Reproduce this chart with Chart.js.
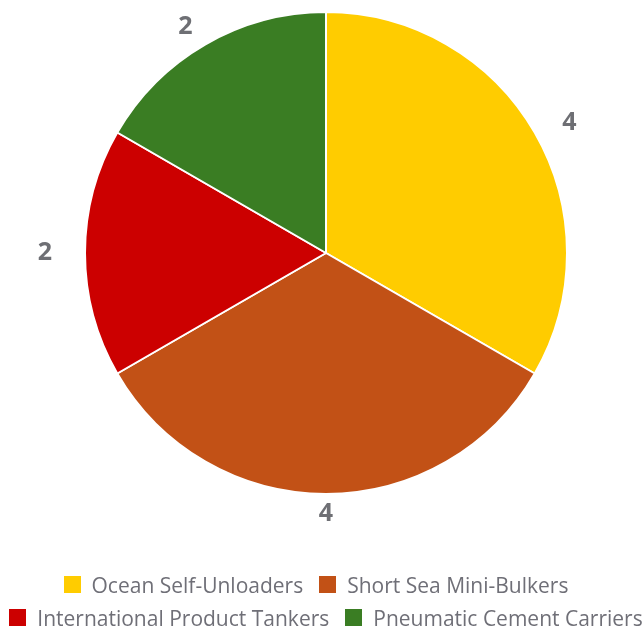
<!DOCTYPE html>
<html>
<head>
<meta charset="utf-8">
<script src="https://cdn.jsdelivr.net/npm/chart.js@4/dist/chart.umd.min.js"></script>
<style>
  html, body { margin: 0; padding: 0; background: #ffffff; overflow: hidden; }
  #wrap { position: relative; width: 644px; height: 627px; }
  #chart { position: absolute; left: 0; top: 0; }
  #legend { position: absolute; left: 0; top: 568px; width: 644px;
            font-family: "Open Sans", sans-serif; font-size: 21px; color: #6F6F77; }
  .row { height: 33px; display: flex; justify-content: center; align-items: center; white-space: nowrap; }
  .row.first { margin-right: 12px; }
  .row.second { margin-left: 8px; }
  .item { display: flex; align-items: center; margin: 0 8px; }
  .box { width: 17px; height: 17px; margin-right: 11px; flex: none; }
</style>
</head>
<body>
<div id="wrap">
  <canvas id="chart" width="644" height="627"></canvas>
  <div id="legend"></div>
</div>
<script>
// Fleet composition by vessel type
const categories = [
  'Ocean Self-Unloaders',
  'Short Sea Mini-Bulkers',
  'International Product Tankers',
  'Pneumatic Cement Carriers'
];
const vessels = [4, 4, 2, 2];
const sliceColors = ['#FFCC00', '#C25116', '#CC0000', '#3A7D23'];
const legendRows = [[0, 1], [2, 3]];

// Writes each slice's value just outside its arc
const outsideValues = {
  id: 'outsideValues',
  afterDatasetsDraw(chart) {
    const ctx = chart.ctx;
    const meta = chart.getDatasetMeta(0);
    const values = chart.data.datasets[0].data;
    ctx.save();
    ctx.font = 'bold 25px "Open Sans", sans-serif';
    ctx.fillStyle = '#6E6F74';
    ctx.textAlign = 'center';
    ctx.textBaseline = 'middle';
    meta.data.forEach((arc, i) => {
      const p = arc.getProps(['x', 'y', 'startAngle', 'endAngle', 'outerRadius'], true);
      const mid = (p.startAngle + p.endAngle) / 2;
      const x = p.x + Math.cos(mid) * (p.outerRadius + 40);
      const y = p.y + Math.sin(mid) * (p.outerRadius + 20);
      ctx.fillText(String(values[i]), x, y);
    });
    ctx.restore();
  }
};

const chart = new Chart(document.getElementById('chart'), {
  type: 'pie',
  data: {
    labels: categories,
    datasets: [{
      data: vessels,
      backgroundColor: sliceColors,
      borderColor: '#ffffff',
      borderWidth: 2
    }]
  },
  options: {
    responsive: false,
    animation: false,
    layout: { padding: { left: 84, right: 76, top: 11, bottom: 132 } },
    plugins: {
      legend: { display: false },
      tooltip: { enabled: false }
    }
  },
  plugins: [outsideValues]
});

// Legend built from the chart's own labels and colours
const legendEl = document.getElementById('legend');
legendRows.forEach((row, n) => {
  const r = document.createElement('div');
  r.className = n === 0 ? 'row first' : 'row second';
  row.forEach(i => {
    const item = document.createElement('div');
    item.className = 'item';
    const box = document.createElement('span');
    box.className = 'box';
    box.style.background = chart.data.datasets[0].backgroundColor[i];
    const label = document.createElement('span');
    label.textContent = chart.data.labels[i];
    item.appendChild(box);
    item.appendChild(label);
    r.appendChild(item);
  });
  legendEl.appendChild(r);
});
</script>
</body>
</html>
